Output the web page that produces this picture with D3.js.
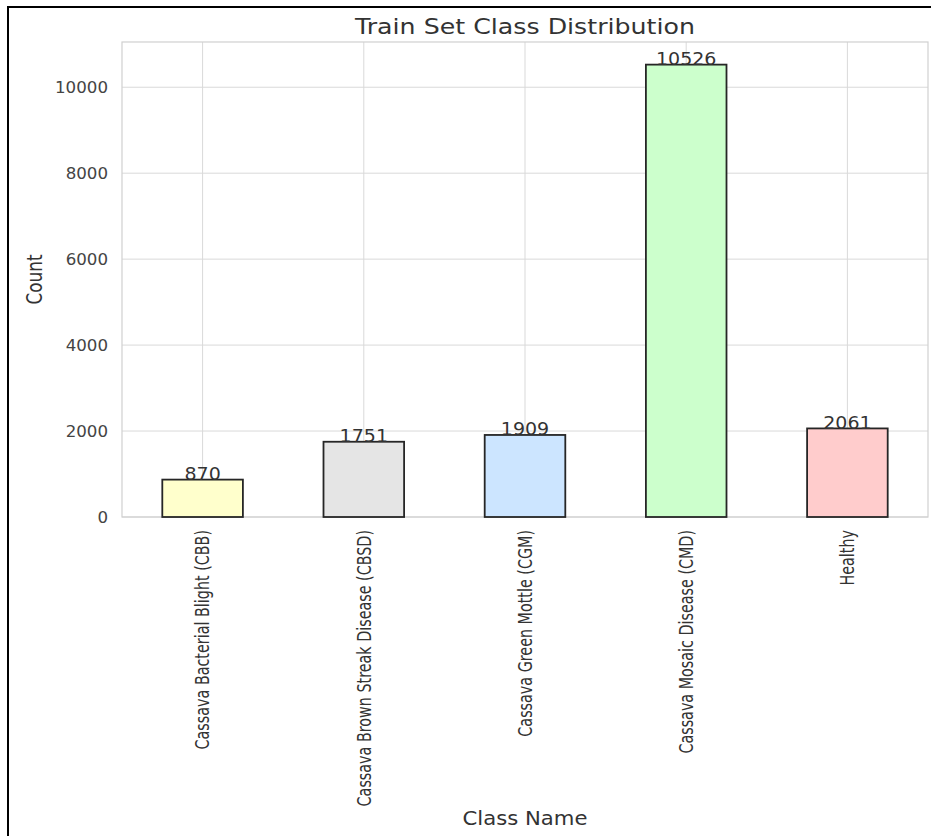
<!DOCTYPE html>
<html><head><meta charset="utf-8">
<script src="https://cdn.jsdelivr.net/npm/d3@7"></script>
<style>body{margin:0;background:#fff;overflow:hidden}svg{display:block}text{font-family:"DejaVu Sans",sans-serif;fill:#333}</style>
</head><body>
<svg id="c" width="931" height="836"></svg>
<script>
const categories = ["Cassava Bacterial Blight (CBB)","Cassava Brown Streak Disease (CBSD)","Cassava Green Mottle (CGM)","Cassava Mosaic Disease (CMD)","Healthy"];
const counts = [870, 1751, 1909, 10526, 2061];
const barColors = ["#ffffcc","#e5e5e5","#cce5ff","#ccffcc","#ffcccc"];
const yTicks = [0, 2000, 4000, 6000, 8000, 10000];
const titleText = "Train Set Class Distribution";
const xLabel = "Class Name";
const yLabel = "Count";

const svg = d3.select("#c");
const m = {left:122, right:928, top:42, bottom:517};

// outer frame (left and top edges visible)
svg.append("path").attr("d","M8,836 V7 H931").attr("fill","none").attr("stroke","#000").attr("stroke-width",2);

const x = d3.scaleBand().domain(categories).range([m.left, m.right]).paddingInner(0.5).paddingOuter(0.25);
const y = d3.scaleLinear().domain([0, d3.max(counts)*1.05]).range([m.bottom, m.top]);

// grid
const g = svg.append("g");
g.selectAll("line.h").data(yTicks).join("line").attr("class","h")
  .attr("x1",m.left).attr("x2",m.right).attr("y1",d=>y(d)).attr("y2",d=>y(d))
  .attr("stroke","#d9d9d9").attr("stroke-width",1);
g.selectAll("line.v").data(categories).join("line").attr("class","v")
  .attr("x1",d=>x(d)+x.bandwidth()/2).attr("x2",d=>x(d)+x.bandwidth()/2)
  .attr("y1",m.top).attr("y2",m.bottom).attr("stroke","#d9d9d9").attr("stroke-width",1);
// spines
svg.append("rect").attr("x",m.left).attr("y",m.top).attr("width",m.right-m.left).attr("height",m.bottom-m.top)
  .attr("fill","none").attr("stroke","#d0d0d0").attr("stroke-width",1.2);

// bars
svg.selectAll("rect.bar").data(counts).join("rect").attr("class","bar")
  .attr("x",(d,i)=>x(categories[i])).attr("width",x.bandwidth())
  .attr("y",d=>y(d)).attr("height",d=>y(0)-y(d))
  .attr("fill",(d,i)=>barColors[i]).attr("stroke","#262626").attr("stroke-width",1.8);

// value labels
svg.selectAll("text.val").data(counts).join("text").attr("class","val")
  .attr("transform",(d,i)=>`translate(${x(categories[i])+x.bandwidth()/2},${y(d)+0.5}) scale(1.12,1)`)
  .attr("text-anchor","middle").attr("font-size",17).style("fill","#333")
  .text(d=>d);

// y axis ticks
const ya = svg.append("g").attr("transform",`translate(${m.left},0)`)
  .call(d3.axisLeft(y).tickValues(yTicks).tickSize(0).tickPadding(14).tickFormat(d3.format("d")));
ya.select(".domain").remove();
ya.selectAll(".tick text").attr("font-size",15.5).attr("font-family","DejaVu Sans").style("fill","#444")
  .attr("dy","0.36em");
ya.selectAll(".tick text").each(function(){
  const t=d3.select(this); const xx=+t.attr("x");
  t.attr("x",null).attr("transform",`translate(${xx},0) scale(1.075,1)`);
});

// x axis ticks
const xa = svg.append("g").attr("transform",`translate(0,${m.bottom})`)
  .call(d3.axisBottom(x).tickSize(0).tickPadding(0));
xa.select(".domain").remove();
xa.selectAll(".tick text").attr("y",null).attr("dy",null)
  .attr("font-size",19.5).attr("font-family","DejaVu Sans").style("fill","#333")
  .attr("text-anchor","end").attr("dominant-baseline","central")
  .attr("transform","translate(0,13) rotate(-90) scale(0.735,1)");

// title
svg.append("text").attr("x",(m.left+m.right)/2).attr("y",33.5).attr("text-anchor","middle")
  .attr("font-size",20.5).attr("textLength",340).attr("lengthAdjust","spacingAndGlyphs").text(titleText);
// x label
svg.append("text").attr("x",(m.left+m.right)/2).attr("y",825).attr("text-anchor","middle")
  .attr("font-size",19.6).attr("textLength",125).attr("lengthAdjust","spacingAndGlyphs").text(xLabel);
// y label
svg.append("text").attr("transform",`translate(41.5,${(m.top+m.bottom)/2}) rotate(-90)`).attr("text-anchor","middle")
  .attr("font-size",21.5).attr("textLength",50).attr("lengthAdjust","spacingAndGlyphs").text(yLabel);
</script>
</body></html>
